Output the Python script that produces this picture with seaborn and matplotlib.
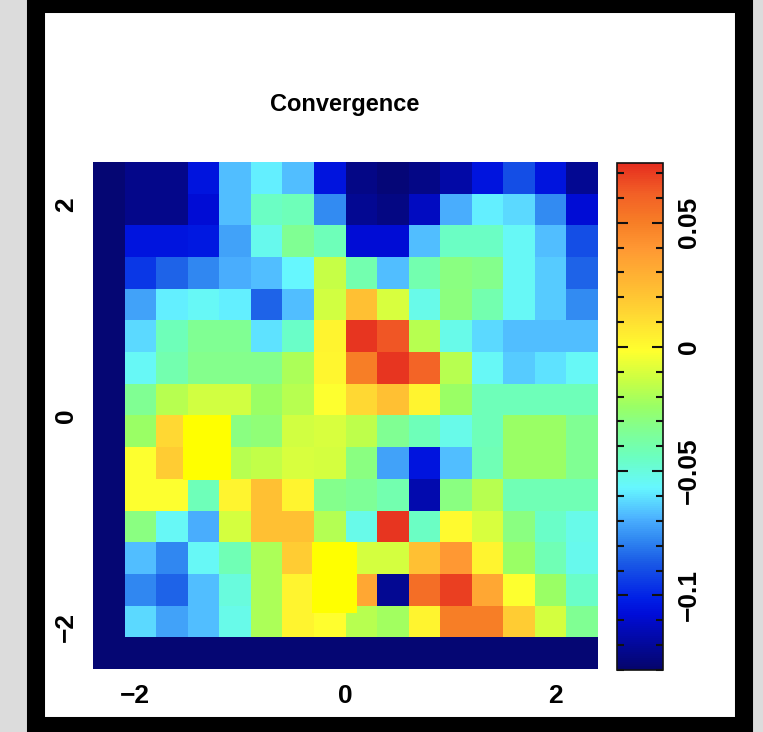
import numpy as np
import pandas as pd
import matplotlib
matplotlib.use("Agg")
import matplotlib.pyplot as plt
import seaborn as sns
from matplotlib.patches import Rectangle
from matplotlib.ticker import MultipleLocator
from matplotlib.colors import LinearSegmentedColormap

plt.rcParams["font.family"] = ["Liberation Sans", "DejaVu Sans"]

# grid geometry (data units)
grid_lo = -2.4
cell = 0.3
axis_ticks = [-2, 0, 2]
axis_labels = ["\u22122", "0", "2"]

# convergence map, rows listed from top (y = 2.4) to bottom (y = -2.4)
N = -0.128
convergence = [
    [N, -0.123, -0.123, -0.105, -0.067, -0.058, -0.067, -0.105, -0.124, -0.127, -0.124, -0.118, -0.105, -0.090, -0.105, -0.122],
    [N, -0.123, -0.123, -0.108, -0.067, -0.045, -0.043, -0.077, -0.122, -0.125, -0.112, -0.070, -0.058, -0.062, -0.077, -0.108],
    [N, -0.105, -0.105, -0.103, -0.072, -0.053, -0.034, -0.043, -0.108, -0.108, -0.067, -0.045, -0.045, -0.055, -0.067, -0.090],
    [N, -0.095, -0.085, -0.078, -0.070, -0.067, -0.056, -0.014, -0.040, -0.067, -0.040, -0.030, -0.032, -0.055, -0.064, -0.085],
    [N, -0.072, -0.058, -0.055, -0.058, -0.085, -0.067, -0.012, 0.023, -0.010, -0.052, -0.029, -0.040, -0.055, -0.064, -0.077],
    [N, -0.062, -0.043, -0.034, -0.034, -0.060, -0.046, 0.003, 0.072, 0.064, -0.017, -0.052, -0.062, -0.067, -0.067, -0.067],
    [N, -0.055, -0.040, -0.032, -0.032, -0.032, -0.020, 0.002, 0.050, 0.072, 0.060, -0.017, -0.055, -0.064, -0.060, -0.055],
    [N, -0.034, -0.017, -0.012, -0.012, -0.024, -0.017, -0.002, 0.013, 0.023, 0.003, -0.024, -0.043, -0.043, -0.043, -0.043],
    [N, -0.024, 0.013, 0.000, -0.030, -0.028, -0.012, -0.010, -0.016, -0.034, -0.043, -0.052, -0.043, -0.024, -0.024, -0.034],
    [N, -0.002, 0.018, 0.000, -0.017, -0.015, -0.010, -0.011, -0.030, -0.072, -0.105, -0.067, -0.042, -0.024, -0.024, -0.034],
    [N, -0.002, -0.002, -0.043, 0.003, 0.023, 0.003, -0.032, -0.035, -0.040, -0.116, -0.030, -0.017, -0.042, -0.042, -0.042],
    [N, -0.030, -0.055, -0.070, -0.011, 0.023, 0.023, -0.018, -0.052, 0.072, -0.045, 0.000, -0.010, -0.030, -0.046, -0.052],
    [N, -0.067, -0.078, -0.055, -0.042, -0.020, 0.018, 0.000, -0.011, -0.011, 0.023, 0.039, 0.003, -0.024, -0.042, -0.053],
    [N, -0.078, -0.085, -0.067, -0.050, -0.020, 0.003, 0.000, 0.033, -0.122, 0.056, 0.070, 0.033, -0.002, -0.024, -0.046],
    [N, -0.062, -0.072, -0.067, -0.052, -0.020, 0.003, -0.001, -0.017, -0.022, 0.003, 0.050, 0.050, 0.018, -0.011, -0.034],
    [N] * 16,
]

# highlighted patches: (x0, x1, y0, y1) in data units
highlights = [
    (-1.546, -1.090, -0.610, 0.008),
    (-0.314, 0.106, -1.870, -1.195),
]

vmin, vmax = -0.13, 0.074
cbar_ticks = [-0.1, -0.05, 0, 0.05]
cbar_labels = ["\u22120.1", "\u22120.05", "0", "0.05"]

# rainbow scale: navy through cyan and yellow up to red
rainbow = LinearSegmentedColormap.from_list("rainbow_red", [
    (0.00, (0.02, 0.02, 0.42)),
    (0.11, (0.00, 0.05, 0.85)),
    (0.14, (0.00, 0.12, 0.90)),
    (0.21, (0.10, 0.35, 0.90)),
    (0.26, (0.20, 0.55, 0.95)),
    (0.30, (0.30, 0.70, 1.00)),
    (0.36, (0.40, 0.97, 1.00)),
    (0.42, (0.42, 1.00, 0.75)),
    (0.47, (0.50, 1.00, 0.58)),
    (0.52, (0.60, 1.00, 0.40)),
    (0.57, (0.78, 1.00, 0.27)),
    (0.63, (1.00, 1.00, 0.18)),
    (0.70, (1.00, 0.85, 0.20)),
    (0.75, (1.00, 0.75, 0.20)),
    (0.83, (1.00, 0.60, 0.20)),
    (0.88, (0.97, 0.50, 0.15)),
    (0.94, (0.95, 0.38, 0.15)),
    (1.00, (0.90, 0.18, 0.12)),
])

W, H = 763, 732
fig = plt.figure(figsize=(W / 100, H / 100), dpi=100, facecolor="#dcdcdc")

# white card with a heavy black border, kept behind the axes
fig.patches.append(Rectangle((36 / W, 1 - 726 / H), (744 - 36) / W, (726 - 4) / H,
                             transform=fig.transFigure, facecolor="white",
                             edgecolor="black", linewidth=13, zorder=-10))

ax = fig.add_axes([93 / W, 1 - 669 / H, 505 / W, 507 / H])
cax = fig.add_axes([617 / W, 1 - 670 / H, 46 / W, 507 / H])

df = pd.DataFrame(convergence)
sns.heatmap(df, ax=ax, cbar_ax=cax, cmap=rainbow, vmin=vmin, vmax=vmax,
            xticklabels=False, yticklabels=False, linewidths=0)


def col_pos(v):
    return (v - grid_lo) / cell


def row_pos(v):
    return (-grid_lo - v) / cell


for x0, x1, y0, y1 in highlights:
    ax.add_patch(Rectangle((col_pos(x0), row_pos(y1)), col_pos(x1) - col_pos(x0),
                           row_pos(y0) - row_pos(y1), facecolor="#ffff00",
                           edgecolor="none", zorder=3))

ax.set_xticks([col_pos(v) for v in axis_ticks])
ax.set_xticklabels(axis_labels, fontsize=19, fontweight="bold")
ax.set_yticks([row_pos(v) for v in axis_ticks])
ax.set_yticklabels(axis_labels, fontsize=19, fontweight="bold", rotation=90, va="center")
ax.tick_params(axis="both", length=0, pad=11)
ax.set_xlabel("")
ax.set_ylabel("")

fig.text(345 / W, 1 - 104 / H, "Convergence", ha="center", va="center",
         fontsize=17, fontweight="bold")

cbar = ax.collections[0].colorbar
cbar.set_ticks(cbar_ticks)
cbar.set_ticklabels(cbar_labels)
cax.yaxis.set_minor_locator(MultipleLocator(0.01))
cax.tick_params(which="both", direction="in", left=True, right=True,
                width=1.5, color="#111111")
cax.tick_params(which="major", length=8, pad=10)
cax.tick_params(which="minor", length=5)
for lab in cax.get_yticklabels():
    lab.set_rotation(90)
    lab.set_va("center")
    lab.set_fontsize(19)
    lab.set_fontweight("bold")
cbar.outline.set_edgecolor("#111111")
cbar.outline.set_linewidth(1.2)

fig.savefig("out.png", dpi=100, facecolor=fig.get_facecolor())
